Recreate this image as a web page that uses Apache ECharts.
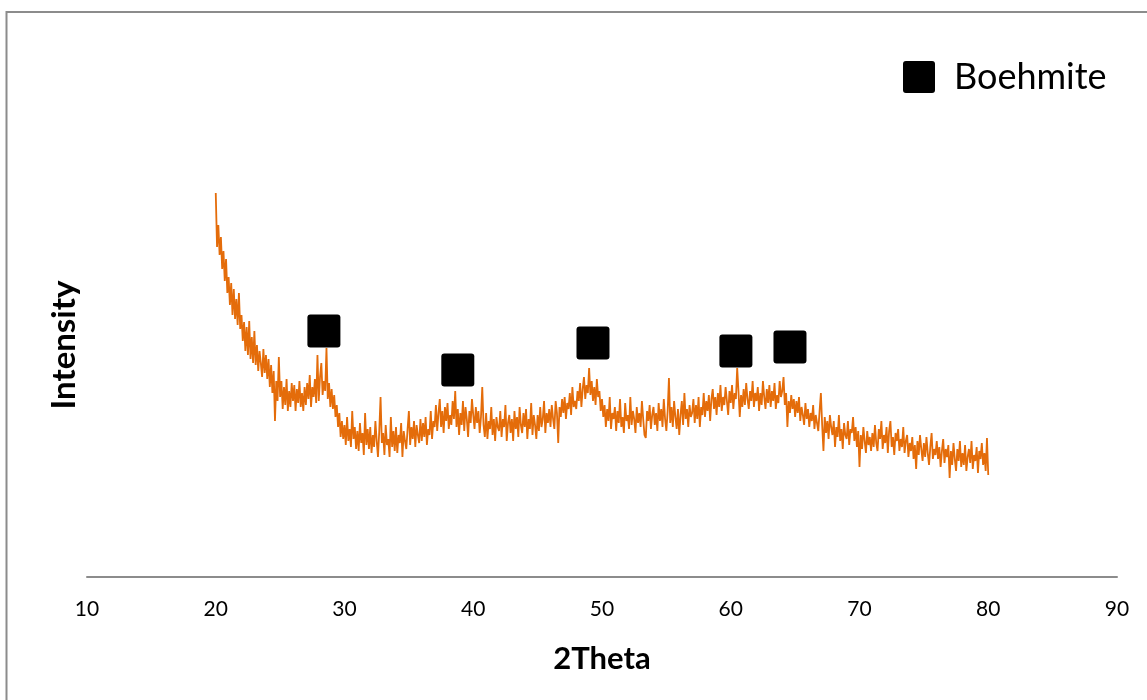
<!DOCTYPE html>
<html>
<head>
<meta charset="utf-8">
<title>XRD</title>
<script src="https://cdn.jsdelivr.net/npm/echarts@6/dist/echarts.min.js"></script>
<style>
  html, body { margin: 0; padding: 0; background: #fff; }
  #chart { width: 1147px; height: 700px; }
</style>
</head>
<body>
<div id="chart"></div>
<script>
// scan from 20 to 80 deg, step 0.1
var thetaStart = 20
var thetaStep = 0.1
var intensity = [
  384, 330, 352, 322, 340, 308, 326, 296, 318, 284,
  300, 272, 294, 262, 288, 258, 278, 252, 284, 248,
  262, 236, 255, 226, 250, 222, 256, 218, 240, 214,
  246, 212, 232, 206, 226, 214, 200, 228, 204, 222,
  198, 218, 190, 212, 184, 206, 156, 196, 176, 220,
  180, 196, 168, 190, 172, 198, 166, 186, 170, 194,
  176, 192, 166, 188, 174, 196, 170, 184, 166, 190,
  172, 194, 178, 202, 170, 190, 180, 198, 174, 222,
  176, 200, 214, 182, 196, 186, 229, 178, 194, 170,
  188, 168, 182, 160, 172, 150, 164, 140, 156, 138,
  152, 132, 160, 136, 148, 130, 166, 138, 150, 128,
  146, 126, 154, 134, 144, 122, 164, 132, 148, 128,
  150, 124, 142, 130, 156, 136, 120, 146, 180, 134,
  144, 122, 152, 132, 138, 120, 160, 130, 146, 126,
  150, 124, 142, 134, 154, 120, 146, 136, 128, 148,
  166, 132, 150, 138, 156, 130, 152, 142, 134, 158,
  136, 154, 140, 160, 132, 148, 142, 166, 138, 156,
  150, 172, 146, 164, 178, 150, 166, 144, 170, 156,
  174, 148, 162, 152, 176, 158, 186, 150, 168, 142,
  164, 152, 176, 146, 170, 158, 140, 166, 154, 178,
  162, 148, 170, 154, 166, 144, 160, 190, 152, 140,
  164, 138, 156, 148, 170, 142, 158, 136, 160, 150,
  146, 166, 140, 158, 150, 172, 136, 154, 162, 144,
  158, 136, 166, 148, 160, 140, 170, 152, 144, 164,
  150, 168, 138, 158, 148, 174, 142, 162, 152, 138,
  162, 146, 170, 150, 158, 176, 144, 164, 154, 168,
  150, 172, 158, 148, 176, 164, 134, 170, 160, 178,
  164, 180, 158, 174, 168, 184, 162, 190, 170, 176,
  168, 186, 176, 194, 170, 188, 200, 178, 192, 184,
  209, 182, 196, 176, 190, 172, 198, 180, 186, 166,
  178, 160, 172, 150, 168, 156, 180, 148, 164, 158,
  170, 146, 166, 154, 178, 150, 160, 144, 174, 156,
  162, 148, 180, 152, 166, 158, 144, 170, 154, 164,
  150, 176, 158, 142, 139, 166, 156, 172, 148, 162,
  170, 152, 164, 146, 174, 156, 168, 150, 178, 158,
  146, 166, 199, 154, 170, 150, 176, 160, 148, 168,
  142, 162, 176, 152, 184, 158, 168, 150, 172, 160,
  164, 178, 154, 172, 158, 180, 150, 170, 162, 184,
  160, 176, 166, 182, 156, 178, 188, 168, 180, 162,
  184, 170, 192, 166, 180, 172, 190, 176, 162, 186,
  174, 192, 168, 184, 178, 209, 186, 160, 182, 170,
  188, 172, 194, 178, 168, 186, 176, 196, 170, 184,
  176, 190, 166, 184, 172, 196, 180, 168, 188, 174,
  192, 170, 186, 176, 194, 168, 182, 174, 196, 180,
  186, 200, 172, 184, 150, 176, 164, 182, 168, 178,
  160, 176, 164, 180, 156, 170, 162, 152, 174, 158,
  168, 150, 164, 156, 172, 148, 162, 154, 146, 166,
  184, 152, 126, 160, 144, 156, 138, 162, 150, 142,
  156, 130, 150, 140, 162, 136, 148, 128, 154, 142,
  138, 156, 132, 148, 144, 160, 136, 150, 130, 146,
  110, 142, 128, 150, 136, 124, 146, 132, 140, 126,
  144, 130, 152, 134, 126, 148, 138, 156, 128, 142,
  134, 150, 124, 146, 156, 130, 140, 122, 144, 136,
  148, 126, 138, 130, 150, 124, 136, 142, 120, 134,
  126, 140, 118, 132, 108, 136, 122, 142, 128, 116,
  134, 120, 140, 124, 112, 130, 144, 118, 128, 122,
  136, 118, 130, 110, 126, 138, 114, 128, 120, 132,
  99, 126, 112, 134, 118, 106, 128, 116, 136, 110,
  124, 112, 132, 106, 120, 128, 114, 136, 108, 122,
  116, 130, 104, 126, 118, 134, 112, 124, 106, 139,
  102
]

// boehmite peak markers
var peakTheta = [28.4, 38.8, 49.3, 60.4, 64.6]
var peakLevel = [246, 207, 234, 226, 230]

var xTicks = [10, 20, 30, 40, 50, 60, 70, 80, 90]

var FONT = 'Lato, "Open Sans", sans-serif'
// square with slightly rounded corners, like the excel marker
var SQUARE = 'path://M3,0 H30 Q33,0 33,3 V30 Q33,33 30,33 H3 Q0,33 0,30 V3 Q0,0 3,0 Z'

var lineData = []
for (var i = 0; i < intensity.length; i++) {
  lineData.push([+(thetaStart + i * thetaStep).toFixed(1), intensity[i]])
}
var peakData = []
for (var j = 0; j < peakTheta.length; j++) {
  peakData.push([peakTheta[j], peakLevel[j]])
}

var chart = echarts.init(document.getElementById('chart'))
chart.setOption({
  animation: false,
  backgroundColor: '#fff',
  grid: {
    left: 87,
    right: 30,
    top: 113,
    bottom: 123,
  },
  legend: {
    data: [{ name: 'Boehmite', icon: SQUARE }],
    left: 903,
    top: 59,
    padding: 0,
    itemWidth: 32,
    itemHeight: 32,
    textStyle: {
      fontFamily: FONT,
      fontSize: 36,
      color: '#000',
      padding: [0, 0, 0, 14],
    },
  },
  xAxis: {
    type: 'value',
    min: xTicks[0],
    max: xTicks[xTicks.length - 1],
    interval: 10,
    name: '2Theta',
    nameLocation: 'middle',
    nameGap: 66,
    nameTextStyle: {
      fontFamily: FONT,
      fontSize: 31,
      fontWeight: 'bold',
      color: '#000',
    },
    axisLine: {
      lineStyle: { color: '#8c8c8c', width: 2 },
    },
    axisTick: { show: false },
    splitLine: { show: false },
    axisLabel: {
      margin: 22,
      fontFamily: FONT,
      fontSize: 21,
      color: '#000',
    },
  },
  yAxis: {
    type: 'value',
    min: 0,
    max: 464,
    name: 'Intensity',
    nameLocation: 'middle',
    nameRotate: 90,
    nameGap: 6,
    nameTextStyle: {
      fontFamily: FONT,
      fontSize: 33,
      fontWeight: 'bold',
      color: '#000',
    },
    axisLine: { show: false },
    axisTick: { show: false },
    axisLabel: { show: false },
    splitLine: { show: false },
  },
  series: [
    {
      name: 'XRD',
      type: 'line',
      data: lineData,
      showSymbol: false,
      symbol: 'none',
      lineStyle: { color: '#e46c0a', width: 1.8 },
      z: 2,
    },
    {
      name: 'Boehmite',
      type: 'scatter',
      data: peakData,
      symbol: SQUARE,
      symbolSize: 33,
      itemStyle: { color: '#000', opacity: 1 },
      z: 3,
    },
  ],
  graphic: [
    {
      type: 'polyline',
      shape: { points: [[6.5, 700], [6.5, 12], [1147, 12]] },
      style: { stroke: '#8c8c8c', lineWidth: 2, fill: null },
    },
  ],
})
</script>
</body>
</html>
